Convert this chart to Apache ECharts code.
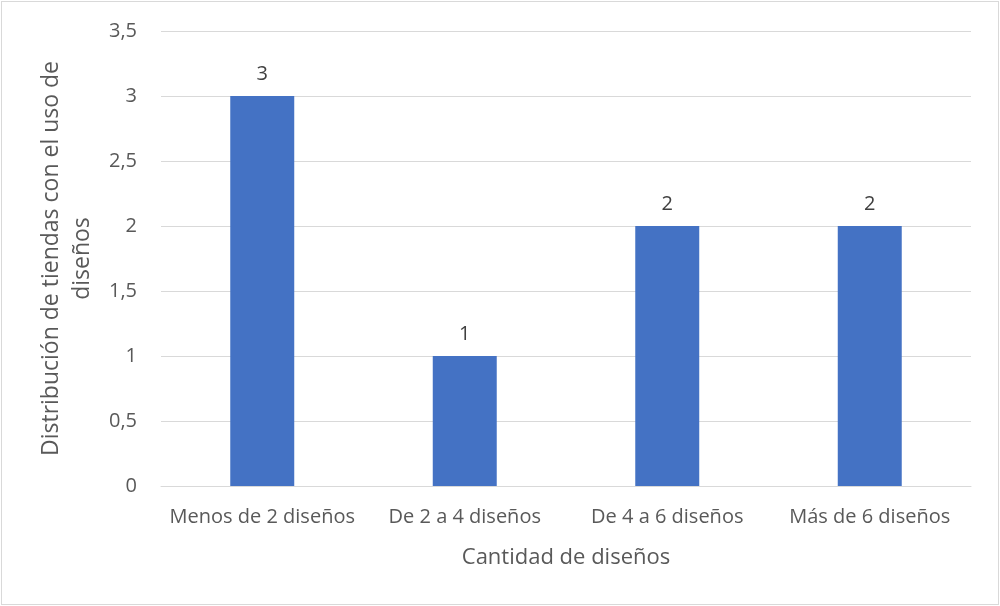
<!DOCTYPE html>
<html><head><meta charset="utf-8">
<script src="https://cdn.jsdelivr.net/npm/echarts@6/dist/echarts.min.js"></script>
<style>html,body{margin:0;padding:0;background:#fff}#c{width:1000px;height:606px}
#frame{position:absolute;left:1px;top:1px;width:996px;height:602px;border:1px solid #d9d9d9;box-sizing:content-box;pointer-events:none}</style>
</head><body>
<div id="c"></div><div id="frame"></div>
<script>
const categories = ["Menos de 2 diseños", "De 2 a 4 diseños", "De 4 a 6 diseños", "Más de 6 diseños"];
const values = [3, 1, 2, 2];
const yTicks = [0, 0.5, 1, 1.5, 2, 2.5, 3, 3.5];
const xTitle = "Cantidad de diseños";
const yTitle = "Distribución de tiendas con el uso de\ndiseños";

const font = "'Open Sans', sans-serif";
const chart = echarts.init(document.getElementById('c'));
chart.setOption({
  animation: false,
  grid: {left: 161, right: 29, top: 31, bottom: 120},
  xAxis: {
    type: 'category', data: categories,
    axisLine: {lineStyle: {color: '#d9d9d9', width: 1}},
    axisTick: {show: false},
    axisLabel: {color: '#595959', fontSize: 20, fontFamily: font, margin: 21, interval: 0},
    name: xTitle, nameLocation: 'middle', nameGap: 61,
    nameTextStyle: {color: '#595959', fontSize: 22, fontFamily: font}
  },
  yAxis: {
    type: 'value', min: 0, max: 3.5, interval: 0.5,
    axisLine: {show: false}, axisTick: {show: false},
    splitLine: {lineStyle: {color: '#d9d9d9', width: 1}},
    axisLabel: {color: '#595959', fontSize: 20, fontFamily: font, margin: 24,
      formatter: v => yTicks.includes(v) ? String(v).replace('.', ',') : ''},
    name: yTitle, nameLocation: 'middle', nameGap: 58,
    nameTextStyle: {color: '#595959', fontSize: 23, fontFamily: font, lineHeight: 31}
  },
  series: [{
    type: 'bar', data: values, barWidth: '31.6%',
    itemStyle: {color: '#4472c4'},
    label: {show: true, position: 'top', distance: 12, color: '#404040', fontSize: 20, fontFamily: font}
  }]
});
</script>
</body></html>
